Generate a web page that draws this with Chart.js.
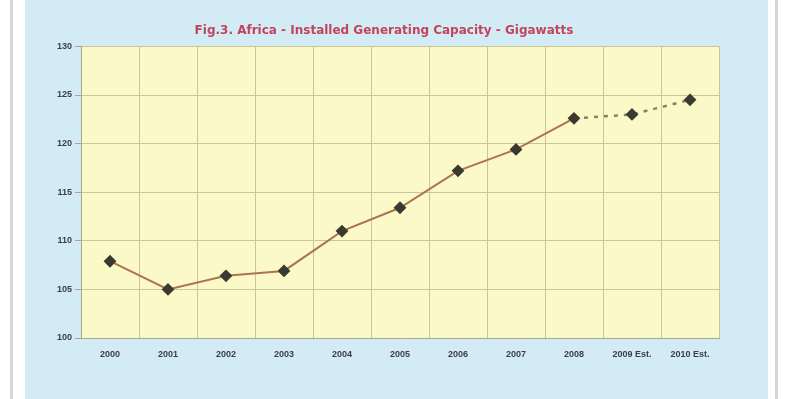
<!DOCTYPE html>
<html>
<head>
<meta charset="utf-8">
<script src="https://cdn.jsdelivr.net/npm/chart.js@4/dist/chart.umd.min.js"></script>
<style>
  html, body { margin: 0; padding: 0; background: #ffffff; }
  #wrap { position: relative; width: 787px; height: 399px; overflow: hidden; }
  #lline { position: absolute; left: 10px; top: 0; width: 3px; height: 399px; background: #d6d6d6; }
  #rline { position: absolute; left: 775px; top: 0; width: 3px; height: 399px; background: #d6d6d6; }
  #panel { position: absolute; left: 25px; top: 0; width: 743px; height: 399px; background: #d2ebf4; }
  #c { position: absolute; left: 0; top: 0; }
</style>
</head>
<body>
<div id="wrap">
  <div id="lline"></div>
  <div id="panel"></div>
  <div id="rline"></div>
  <canvas id="c" width="787" height="399"></canvas>
</div>
<script>
const titleText = "Fig.3. Africa - Installed Generating Capacity - Gigawatts";
const categories = ["2000", "2001", "2002", "2003", "2004", "2005", "2006", "2007", "2008", "2009 Est.", "2010 Est."];
const capacityGW = [107.9, 105.0, 106.4, 106.9, 111.0, 113.4, 117.2, 119.4, 122.6, 123.0, 124.5];
const firstEstimateIndex = 9;
const yTicks = [100, 105, 110, 115, 120, 125, 130];

const plotBg = {
  id: 'plotBg',
  beforeDraw(chart) {
    const a = chart.chartArea, ctx = chart.ctx;
    ctx.save();
    ctx.fillStyle = '#fcf9c8';
    ctx.fillRect(a.left, a.top, a.right - a.left, a.bottom - a.top);
    ctx.restore();
  }
};

const tickFont = { family: "'Liberation Sans Narrow', 'Arial Narrow', 'Liberation Sans', Arial, sans-serif", size: 9, weight: 'bold' };

new Chart(document.getElementById('c'), {
  type: 'line',
  data: {
    labels: categories,
    datasets: [{
      data: capacityGW,
      yAxisID: 'y',
      borderColor: '#ad7352',
      borderWidth: 2,
      pointStyle: 'rectRot',
      pointRadius: 5,
      pointBackgroundColor: '#3a3a30',
      pointBorderColor: '#3a3a30',
      tension: 0,
      segment: {
        borderDash: ctx => ctx.p1DataIndex >= firstEstimateIndex ? [4, 6] : undefined,
        borderColor: ctx => ctx.p1DataIndex >= firstEstimateIndex ? '#8c8068' : undefined,
        borderWidth: ctx => ctx.p1DataIndex >= firstEstimateIndex ? 2.5 : undefined
      }
    }]
  },
  options: {
    responsive: false,
    animation: false,
    layout: { padding: { left: 0, right: 19, top: 0, bottom: 0 } },
    plugins: {
      legend: { display: false },
      tooltip: { enabled: false },
      title: {
        display: true,
        text: titleText,
        color: '#c2445c',
        font: { family: "'DejaVu Sans', Verdana, sans-serif", size: 12, weight: 'bold' },
        padding: { top: 24, bottom: 8 }
      }
    },
    scales: {
      x: {
        offset: true,
        grid: { offset: true, color: '#ccc697', lineWidth: 1, drawTicks: false },
        border: { color: '#a9a68a', width: 1 },
        ticks: { color: '#3c3c50', font: tickFont, padding: 11, maxRotation: 0, autoSkip: false },
        afterFit(s) { s.height = 61; }
      },
      y: {
        min: 100,
        max: 130,
        afterBuildTicks(s) { s.ticks = yTicks.map(v => ({ value: v })); },
        grid: { color: '#ccc697', lineWidth: 1, tickLength: 6, tickColor: '#a9a68a' },
        border: { color: '#a9a68a', width: 1 },
        ticks: { color: '#3c3c50', font: tickFont, padding: 3 },
        afterFit(s) { s.width = 81; }
      },
      yRight: {
        position: 'right',
        display: true,
        min: 100,
        max: 130,
        grid: { display: false, drawTicks: false },
        border: { display: false },
        ticks: { display: false },
        afterFit(s) { s.width = 49; }
      }
    }
  },
  plugins: [plotBg]
});
</script>
</body>
</html>
